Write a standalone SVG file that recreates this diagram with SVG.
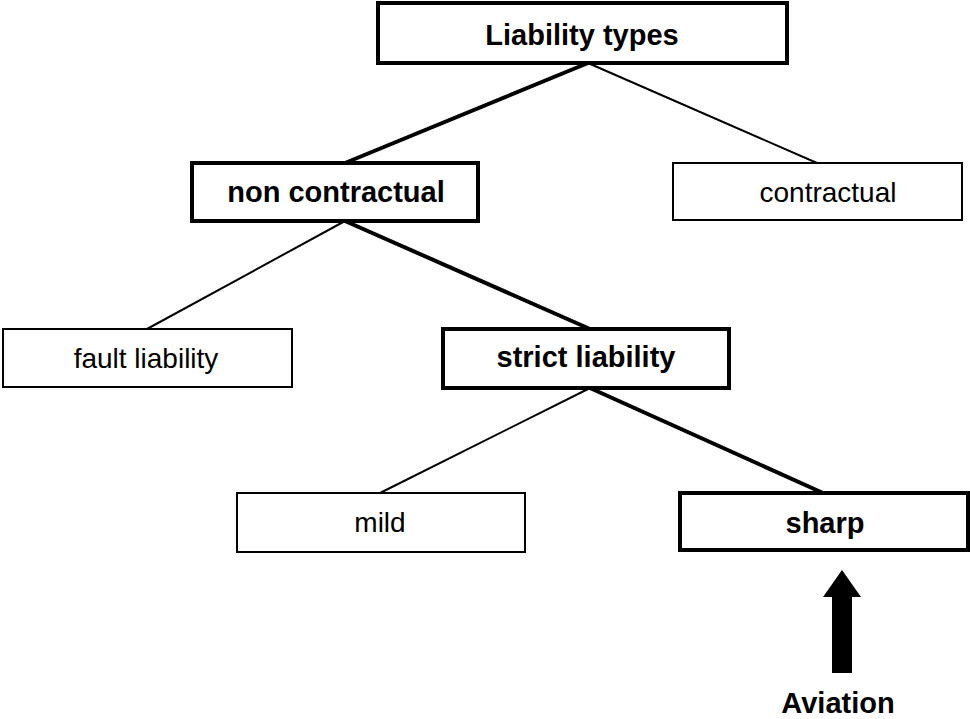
<svg xmlns="http://www.w3.org/2000/svg" width="970" height="719" viewBox="0 0 970 719">
<style>
.thick{fill:#fff;stroke:#000;stroke-width:4}
.thin{fill:#fff;stroke:#000;stroke-width:2}
.lb{font-family:"Liberation Sans",Arial,sans-serif;font-weight:bold;font-size:29px;text-anchor:middle;fill:#000}
.lr{font-family:"Liberation Sans",Arial,sans-serif;font-size:28px;text-anchor:middle;fill:#000}
.ct{stroke:#000;stroke-width:4;fill:none}
.cn{stroke:#000;stroke-width:2;fill:none}
</style>
<rect width="970" height="719" fill="#fff"/>
<g id="connectors">
<line class="ct" x1="588" y1="63" x2="345" y2="163"/>
<line class="cn" x1="588" y1="63" x2="817" y2="163"/>
<line class="cn" x1="345" y1="221" x2="147" y2="329"/>
<line class="ct" x1="345" y1="221" x2="590" y2="329"/>
<line class="cn" x1="590" y1="388" x2="380" y2="493"/>
<line class="ct" x1="590" y1="388" x2="823" y2="493"/>
<polygon id="arrow" points="832,673 852,673 852,597 861,597 842,570 823,597 832,597" fill="#000"/>
</g>
<g id="n-liability-types">
<rect class="thick" x="378" y="3" width="409" height="60"/>
<text class="lb" x="582" y="45" font-size="30">Liability types</text>
</g>
<g id="n-non-contractual">
<rect class="thick" x="192" y="163" width="286" height="58"/>
<text class="lb" x="336" y="202">non contractual</text>
</g>
<g id="n-contractual">
<rect class="thin" x="673" y="163" width="289" height="57"/>
<text class="lr" x="828" y="202">contractual</text>
</g>
<g id="n-fault-liability">
<rect class="thin" x="3" y="329" width="289" height="58"/>
<text class="lr" x="146" y="368">fault liability</text>
</g>
<g id="n-strict-liability">
<rect class="thick" x="443" y="329" width="286" height="59"/>
<text class="lb" x="586" y="367">strict liability</text>
</g>
<g id="n-mild">
<rect class="thin" x="237" y="493" width="288" height="59"/>
<text class="lr" x="380" y="532">mild</text>
</g>
<g id="n-sharp">
<rect class="thick" x="680" y="493" width="288" height="57"/>
<text class="lb" x="825" y="533">sharp</text>
</g>
<g id="n-aviation">
<text class="lb" x="838" y="713" font-size="31">Aviation</text>
</g>
</svg>
